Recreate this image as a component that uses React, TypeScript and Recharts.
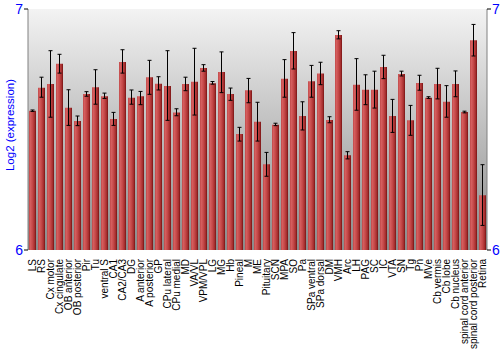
import { BarChart, Bar, XAxis, YAxis, CartesianGrid, ErrorBar } from "recharts";

const regions = [
  "LS", "RS", "Cx motor", "Cx cingulate", "OB anterior", "OB posterior", "Pir", "Tu",
  "ventral S", "CA1", "CA2/CA3", "DG", "A anterior", "A posterior", "GP", "CPu lateral",
  "CPu medial", "MD", "VA/VL", "VPM/VPL", "LG", "MG", "Hb", "Pineal", "M", "ME",
  "Pituitary", "SCN", "MPA", "SO", "Pa", "SPa ventral", "SPa dorsal", "DM", "VMH", "Arc",
  "LH", "PAG", "SC", "IC", "VTA", "SN", "Tg", "Pn", "MVe", "Cb vermis", "Cb lobe",
  "Cb nucleus", "spinal cord anterior", "spinal cord posterior", "Retina",
];

const expression = [
  6.578, 6.673, 6.689, 6.773, 6.590, 6.535, 6.647, 6.675, 6.638, 6.544, 6.780, 6.632,
  6.638, 6.717, 6.690, 6.680, 6.571, 6.689, 6.698, 6.755, 6.692, 6.739, 6.647, 6.481,
  6.663, 6.532, 6.356, 6.520, 6.711, 6.826, 6.556, 6.700, 6.732, 6.539, 6.892, 6.393,
  6.686, 6.665, 6.665, 6.759, 6.556, 6.730, 6.538, 6.693, 6.632, 6.689, 6.615, 6.689,
  6.573, 6.870, 6.227,
];

const lower = [
  6.575, 6.634, 6.551, 6.734, 6.517, 6.516, 6.638, 6.605, 6.629, 6.517, 6.734, 6.605,
  6.603, 6.646, 6.664, 6.538, 6.557, 6.661, 6.560, 6.742, 6.688, 6.653, 6.621, 6.452,
  6.611, 6.452, 6.306, 6.516, 6.634, 6.751, 6.498, 6.634, 6.686, 6.528, 6.876, 6.378,
  6.580, 6.603, 6.589, 6.711, 6.488, 6.722, 6.476, 6.663, 6.629, 6.627, 6.551, 6.636,
  6.569, 6.805, 6.102,
];

const upper = [
  6.581, 6.717, 6.827, 6.812, 6.665, 6.556, 6.657, 6.748, 6.651, 6.571, 6.831, 6.664,
  6.658, 6.787, 6.719, 6.827, 6.586, 6.717, 6.837, 6.769, 6.699, 6.822, 6.672, 6.509,
  6.712, 6.613, 6.405, 6.526, 6.790, 6.902, 6.615, 6.766, 6.779, 6.553, 6.910, 6.408,
  6.794, 6.727, 6.742, 6.808, 6.625, 6.742, 6.600, 6.725, 6.636, 6.754, 6.682, 6.743,
  6.576, 6.936, 6.354,
];

const yTicks = [6, 7];

const data = regions.map((name, i) => ({
  name,
  value: expression[i],
  err: [expression[i] - lower[i], upper[i] - expression[i]],
}));

const FONT = "'Liberation Sans', Arial, sans-serif";
const BLUE = "#0000ff";

function RegionTick({ x, y, payload }: any) {
  return (
    <text
      transform={`translate(${x},${y + 1}) rotate(-90)`}
      textAnchor="end"
      dominantBaseline="central"
      fontSize={10}
      fontFamily={FONT}
      fill="#000"
    >
      {payload.value}
    </text>
  );
}

export default function App() {
  return (
    <div style={{ position: "absolute", left: 0, top: 0 }}>
      <BarChart
        width={500}
        height={350}
        data={data}
        margin={{ top: 9, right: 0, bottom: 0, left: 0 }}
        barCategoryGap={1}
      >
        <defs>
          <linearGradient id="bgGrad" x1="0" y1="0" x2="0" y2="1">
            <stop offset="0%" stopColor="#f3f3f3" />
            <stop offset="100%" stopColor="#8a8a8a" />
          </linearGradient>
          <linearGradient id="barGrad" x1="0" y1="0" x2="1" y2="0">
            <stop offset="0%" stopColor="#b84040" />
            <stop offset="15%" stopColor="#d86262" />
            <stop offset="50%" stopColor="#c44848" />
            <stop offset="85%" stopColor="#a02a2a" />
            <stop offset="100%" stopColor="#701010" />
          </linearGradient>
        </defs>
        <CartesianGrid fill="url(#bgGrad)" stroke="none" fillOpacity={1} />
        <XAxis
          dataKey="name"
          interval={0}
          height={100}
          axisLine={false}
          tickLine={false}
          tick={<RegionTick />}
        />
        <XAxis
          xAxisId="top"
          dataKey="name"
          orientation="top"
          height={0}
          tick={false}
          tickLine={false}
          axisLine={{ stroke: "#808080" }}
        />
        <YAxis
          yAxisId="left"
          domain={[6, 7]}
          ticks={yTicks}
          width={28}
          tickSize={4}
          tickMargin={1}
          axisLine={{ stroke: "#808080" }}
          tickLine={{ stroke: "#000" }}
          tick={{ fill: BLUE, fontSize: 14, fontFamily: FONT }}
          allowDataOverflow
          label={{
            content: () => (
              <text
                transform="translate(10,125) rotate(-90)"
                textAnchor="middle"
                dominantBaseline="central"
                fontSize={11.5}
                fontFamily={FONT}
                fill={BLUE}
              >
                Log2 (expression)
              </text>
            ),
          }}
        />
        <YAxis
          yAxisId="right"
          orientation="right"
          domain={[6, 7]}
          ticks={yTicks}
          width={13}
          tickSize={4}
          tickMargin={1}
          axisLine={{ stroke: "#808080" }}
          tickLine={{ stroke: "#000" }}
          tick={{ fill: BLUE, fontSize: 14, fontFamily: FONT }}
          allowDataOverflow
        />
        <Bar
          dataKey="value"
          yAxisId="left"
          fill="url(#barGrad)"
          isAnimationActive={false}
        >
          <ErrorBar dataKey="err" direction="y" width={2} stroke="#000" strokeWidth={1} />
        </Bar>
      </BarChart>
    </div>
  );
}
